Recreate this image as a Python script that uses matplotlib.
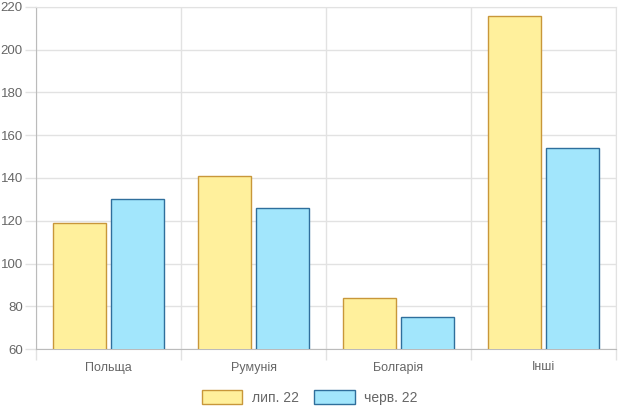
import numpy as np
import matplotlib.pyplot as plt

# -----------------------------
# Data
# -----------------------------
categories = ["Польща", "Румунія", "Болгарія", "Інші"]
jul22 = [119, 141, 84, 216]
jun22 = [130, 126, 75, 154]
series_labels = ["лип. 22", "черв. 22"]

yellow_fill, yellow_edge = "#fff09c", "#c8973a"
blue_fill, blue_edge = "#a2e6fc", "#2f6f9c"
grid_c = "#e2e2e2"
text_c = "#666666"

plt.rcParams["font.family"] = ["Liberation Sans", "DejaVu Sans"]

fig = plt.figure(figsize=(6.2, 4.13), dpi=100)
ax = fig.add_axes([36 / 620, 64 / 413, 580 / 620, 342 / 413])

x = np.arange(len(categories))
slot = 0.4
bw = slot * 0.9
ax.bar(x - slot / 2, jul22, bw, color=yellow_fill, edgecolor=yellow_edge,
       linewidth=1, label=series_labels[0], zorder=3)
ax.bar(x + slot / 2, jun22, bw, color=blue_fill, edgecolor=blue_edge,
       linewidth=1, label=series_labels[1], zorder=3)

ax.set_xlim(-0.5, len(categories) - 0.5)
ax.set_ylim(60, 220)
ax.set_yticks(np.arange(60, 221, 20))

ax.set_xticks(x)
ax.set_xticklabels(categories)
ax.set_xticks(np.arange(-0.5, len(categories), 1), minor=True)
ax.tick_params(axis="x", which="major", length=0, pad=9, labelsize=9, labelcolor=text_c)
ax.tick_params(axis="x", which="minor", length=8, color=grid_c, width=1)
ax.tick_params(axis="y", length=8, color=grid_c, width=1, pad=1.5, labelsize=9.5, labelcolor=text_c)

ax.grid(True, axis="y", color=grid_c, linewidth=1, zorder=0)
ax.grid(True, axis="x", which="minor", color=grid_c, linewidth=1, zorder=0)

for side in ["top", "right"]:
    ax.spines[side].set_color(grid_c)
for side in ["left", "bottom"]:
    ax.spines[side].set_color("#bbbbbb")

leg = fig.legend(loc="lower center", bbox_to_anchor=(0.5, -0.01), ncol=2, frameon=False,
                 fontsize=10, handlelength=2.9, handleheight=1.1, columnspacing=1.1,
                 handletextpad=0.7)
for t in leg.get_texts():
    t.set_color(text_c)

fig.savefig("out.png", dpi=100)
